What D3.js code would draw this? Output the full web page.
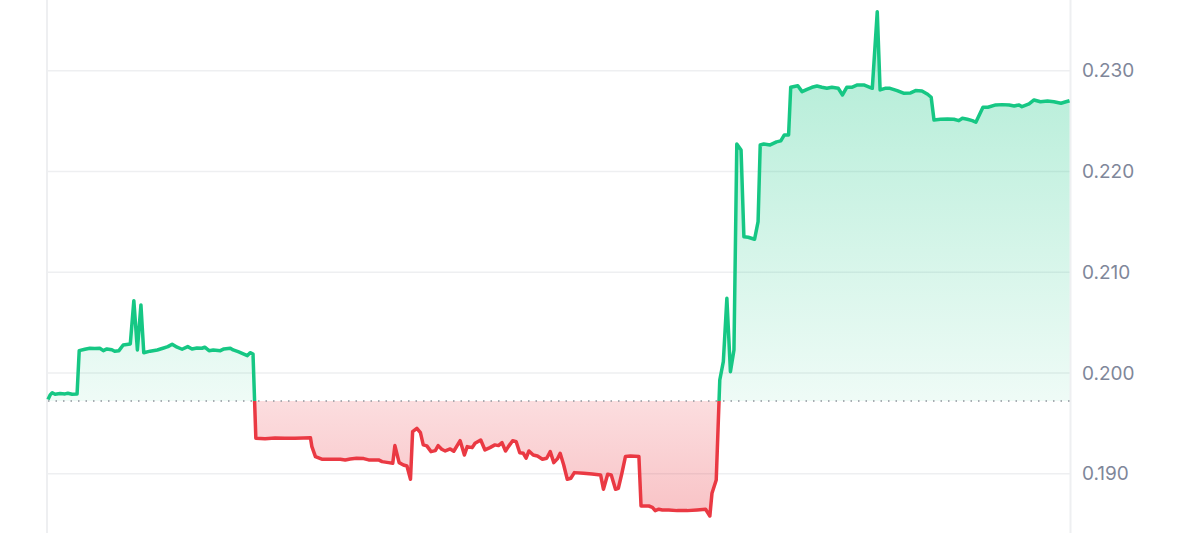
<!DOCTYPE html>
<html>
<head>
<meta charset="utf-8">
<script src="https://cdn.jsdelivr.net/npm/d3@7"></script>
<style>
  html, body { margin: 0; padding: 0; background: #fff; }
  svg { display: block; }
</style>
</head>
<body>
<div id="chart"></div>
<script>
// minutes since start of the window
const times = [
  0, 3, 6, 10, 17, 24, 28, 34, 41, 44, 52, 59, 66, 73, 78, 83, 90, 94, 100, 106,
  116, 121, 126, 131, 135, 144, 154, 162, 169, 175, 182, 189, 197, 203, 210, 217, 221, 227, 233, 243,
  248, 257, 261, 268, 281, 285, 289, 293, 306, 320, 334, 348, 360, 370, 372, 377, 386, 398, 412, 419,
  426, 435, 445, 452, 459, 466, 471, 480, 486, 489, 495, 501, 506, 511, 514, 520, 525, 529, 534, 540,
  546, 550, 555, 560, 567, 572, 581, 587, 591, 598, 602, 610, 616, 623, 630, 635, 640, 645, 649, 655,
  660, 665, 670, 674, 678, 684, 690, 697, 703, 708, 713, 718, 722, 727, 732, 737, 742, 755, 767, 779,
  783, 789, 794, 800, 804, 809, 814, 821, 833, 836, 847, 852, 856, 861, 866, 875, 887, 901, 915, 927,
  933, 936, 942, 947, 952, 957, 962, 967, 971, 977, 981, 987, 996, 1001, 1004, 1009, 1018, 1027, 1033, 1038,
  1044, 1047, 1057, 1063, 1070, 1077, 1084, 1091, 1098, 1105, 1114, 1120, 1126, 1133, 1141, 1150, 1162, 1169, 1173, 1180,
  1187, 1197, 1206, 1216, 1223, 1232, 1240, 1245, 1249, 1258, 1268, 1277, 1284, 1289, 1296, 1303, 1308, 1318, 1325, 1336,
  1345, 1355, 1362, 1369, 1373, 1383, 1390, 1399, 1409, 1418, 1428, 1435, 1440
];

const prices = [
  0.19738, 0.19783, 0.19805, 0.19790, 0.19796, 0.19793, 0.19800, 0.19790, 0.19793, 0.20222,
  0.20236, 0.20246, 0.20244, 0.20246, 0.20222, 0.20239, 0.20231, 0.20216, 0.20222, 0.20279,
  0.20289, 0.20718, 0.20229, 0.20676, 0.20202, 0.20217, 0.20229, 0.20246, 0.20262, 0.20286,
  0.20256, 0.20236, 0.20262, 0.20239, 0.20249, 0.20246, 0.20256, 0.20222, 0.20229, 0.20222,
  0.20239, 0.20246, 0.20229, 0.20212, 0.20173, 0.20202, 0.20189, 0.19353, 0.19349, 0.19356,
  0.19353, 0.19353, 0.19356, 0.19359, 0.19270, 0.19171, 0.19145, 0.19145, 0.19145, 0.19138,
  0.19148, 0.19155, 0.19151, 0.19138, 0.19138, 0.19138, 0.19121, 0.19111, 0.19105, 0.19280,
  0.19111, 0.19088, 0.19078, 0.18946, 0.19419, 0.19452, 0.19409, 0.19287, 0.19277, 0.19220,
  0.19230, 0.19280, 0.19244, 0.19227, 0.19247, 0.19224, 0.19329, 0.19187, 0.19270, 0.19260,
  0.19303, 0.19336, 0.19237, 0.19260, 0.19287, 0.19280, 0.19309, 0.19227, 0.19270, 0.19329,
  0.19319, 0.19210, 0.19204, 0.19155, 0.19227, 0.19187, 0.19177, 0.19145, 0.19155, 0.19220,
  0.19111, 0.19148, 0.19204, 0.19088, 0.18946, 0.18956, 0.19012, 0.19006, 0.18999, 0.18989,
  0.18847, 0.18996, 0.18989, 0.18847, 0.18857, 0.19006, 0.19171, 0.19177, 0.19171, 0.18681,
  0.18681, 0.18668, 0.18635, 0.18649, 0.18642, 0.18642, 0.18635, 0.18635, 0.18642, 0.18649,
  0.18582, 0.18807, 0.18939, 0.19931, 0.20113, 0.20742, 0.20014, 0.20229, 0.22273, 0.22213,
  0.21353, 0.21347, 0.21327, 0.21502, 0.22263, 0.22273, 0.22263, 0.22293, 0.22303, 0.22362,
  0.22362, 0.22835, 0.22851, 0.22792, 0.22815, 0.22835, 0.22848, 0.22835, 0.22825, 0.22835,
  0.22825, 0.22759, 0.22835, 0.22835, 0.22858, 0.22858, 0.22825, 0.23585, 0.22809, 0.22825,
  0.22825, 0.22802, 0.22776, 0.22779, 0.22802, 0.22799, 0.22766, 0.22736, 0.22511, 0.22518,
  0.22521, 0.22518, 0.22504, 0.22528, 0.22518, 0.22504, 0.22488, 0.22637, 0.22637, 0.22660,
  0.22663, 0.22660, 0.22650, 0.22660, 0.22643, 0.22670, 0.22709, 0.22692, 0.22699, 0.22692,
  0.22677, 0.22692, 0.22702
];

const openPrice = 0.19722; // reference (dotted) line
const yTicks = [0.19, 0.20, 0.21, 0.22, 0.23];
const yTickLabels = ["0.190", "0.200", "0.210", "0.220", "0.230"];

const width = 1200, height = 533;
const left = 48, right = 1070;

const data = times.map((t, i) => ({ t: t, v: prices[i] }));

const x = d3.scaleLinear().domain([0, 1440]).range([left, right - 0.5]);
const y = d3.scaleLinear().domain([0.18413, 0.23701]).range([height, 0]);

const svg = d3.select("#chart")
    .append("svg")
    .attr("width", width)
    .attr("height", height);

const defs = svg.append("defs");

const yBase = y(openPrice);

defs.append("clipPath").attr("id", "clip-up")
    .append("rect").attr("x", 0).attr("y", 0).attr("width", width).attr("height", yBase);
defs.append("clipPath").attr("id", "clip-down")
    .append("rect").attr("x", 0).attr("y", yBase).attr("width", width).attr("height", height - yBase);

const gUp = defs.append("linearGradient").attr("id", "grad-up")
    .attr("gradientUnits", "userSpaceOnUse")
    .attr("x1", 0).attr("x2", 0).attr("y1", y(0.2286)).attr("y2", yBase);
gUp.append("stop").attr("offset", 0).attr("stop-color", "#16c784").attr("stop-opacity", 0.3);
gUp.append("stop").attr("offset", 1).attr("stop-color", "#16c784").attr("stop-opacity", 0.07);

const gDown = defs.append("linearGradient").attr("id", "grad-down")
    .attr("gradientUnits", "userSpaceOnUse")
    .attr("x1", 0).attr("x2", 0).attr("y1", yBase).attr("y2", y(0.1863));
gDown.append("stop").attr("offset", 0).attr("stop-color", "#ea3943").attr("stop-opacity", 0.17);
gDown.append("stop").attr("offset", 1).attr("stop-color", "#ea3943").attr("stop-opacity", 0.3);

// grid
svg.append("g")
    .selectAll("line")
    .data(yTicks)
    .enter().append("line")
    .attr("x1", left).attr("x2", right)
    .attr("y1", d => y(d)).attr("y2", d => y(d))
    .attr("stroke", "#eeeff1")
    .attr("stroke-width", 1.5);

svg.append("line")
    .attr("x1", left - 1).attr("x2", left - 1)
    .attr("y1", 0).attr("y2", height)
    .attr("stroke", "#eeeff1").attr("stroke-width", 2);
svg.append("line")
    .attr("x1", right + 0.5).attr("x2", right + 0.5)
    .attr("y1", 0).attr("y2", height)
    .attr("stroke", "#eeeff1").attr("stroke-width", 2);

// areas
const area = d3.area()
    .x(d => x(d.t))
    .y0(yBase)
    .y1(d => y(d.v));

svg.append("path").datum(data)
    .attr("d", area)
    .attr("fill", "url(#grad-up)")
    .attr("clip-path", "url(#clip-up)");
svg.append("path").datum(data)
    .attr("d", area)
    .attr("fill", "url(#grad-down)")
    .attr("clip-path", "url(#clip-down)");

// dotted open line
svg.append("line")
    .attr("x1", left).attr("x2", right)
    .attr("y1", yBase).attr("y2", yBase)
    .attr("stroke", "#8f949c")
    .attr("stroke-width", 1.5)
    .attr("stroke-dasharray", "1.5,6");

// price line
const line = d3.line()
    .x(d => x(d.t))
    .y(d => y(d.v));

svg.append("path").datum(data)
    .attr("d", line)
    .attr("fill", "none")
    .attr("stroke", "#16c784")
    .attr("stroke-width", 3.5)
    .attr("stroke-linejoin", "round")
    .attr("clip-path", "url(#clip-up)");
svg.append("path").datum(data)
    .attr("d", line)
    .attr("fill", "none")
    .attr("stroke", "#ea3943")
    .attr("stroke-width", 3.5)
    .attr("stroke-linejoin", "round")
    .attr("clip-path", "url(#clip-down)");

// y axis labels on the right
const yAxis = d3.axisRight(y)
    .tickValues(yTicks)
    .tickFormat((d, i) => yTickLabels[i])
    .tickSize(0)
    .tickPadding(0);

svg.append("g")
    .attr("transform", `translate(${right + 12},0)`)
    .call(yAxis)
    .call(g => g.select(".domain").remove())
    .selectAll("text")
    .attr("fill", "#7f879a")
    .attr("font-family", "Inter, 'Liberation Sans', sans-serif")
    .attr("font-size", "19px");
</script>
</body>
</html>
